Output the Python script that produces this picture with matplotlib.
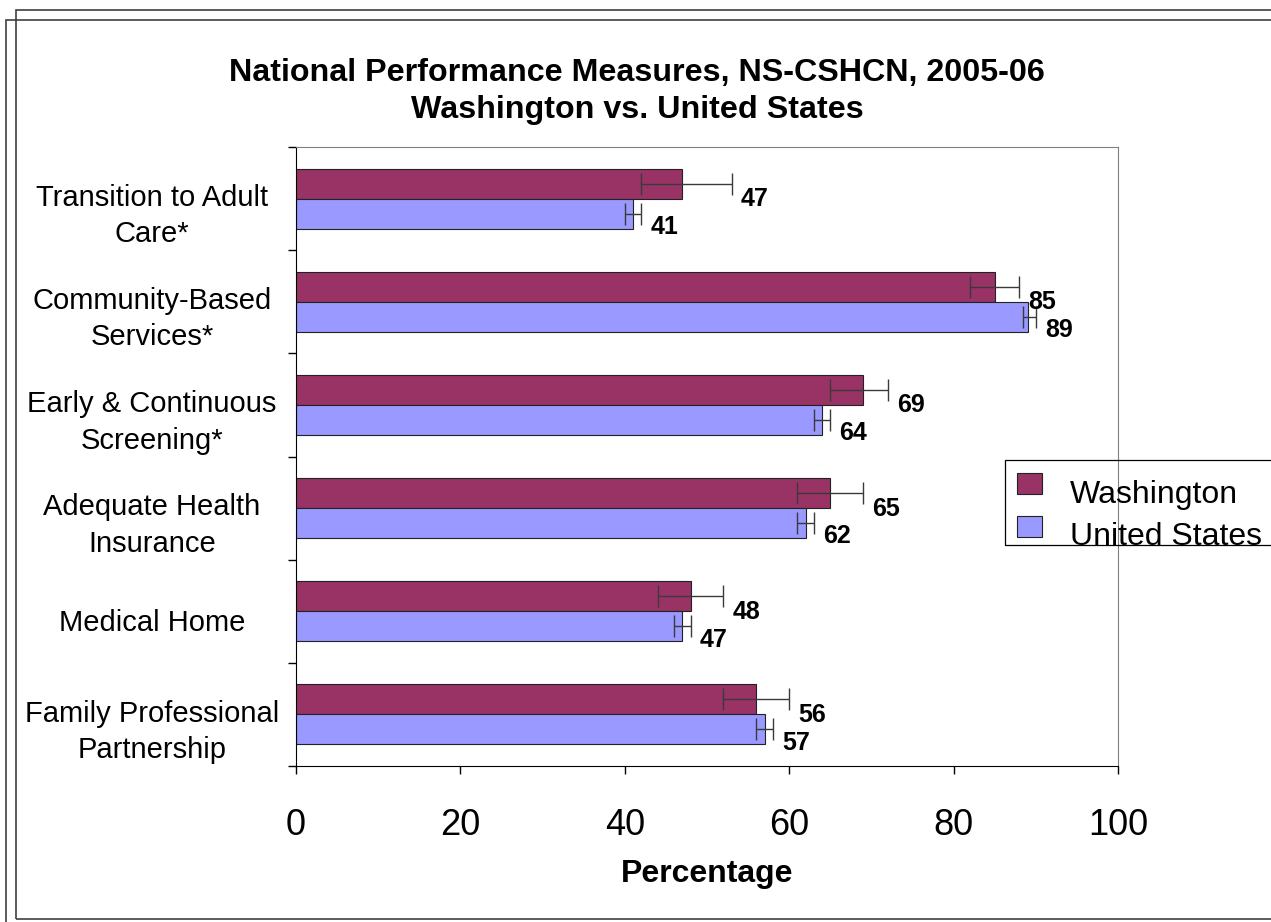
import numpy as np
import matplotlib.pyplot as plt
from matplotlib.patches import Rectangle
import matplotlib.transforms as mtransforms

plt.rcParams['font.family'] = ['Liberation Sans', 'DejaVu Sans']

# data, top to bottom
categories = ['Transition to Adult\nCare*', 'Community-Based\nServices*',
              'Early & Continuous\nScreening*', 'Adequate Health\nInsurance',
              'Medical Home', 'Family Professional\nPartnership']
wa = [47, 85, 69, 65, 48, 56]
wa_lo = [42, 82, 65, 61, 44, 52]
wa_hi = [53, 88, 72, 69, 52, 60]
us = [41, 89, 64, 62, 47, 57]
us_lo = [40, 88.5, 63, 61, 46, 56]
us_hi = [42, 90, 65, 63, 48, 58]
xticks = [0, 20, 40, 60, 80, 100]
series = ['Washington', 'United States']
colors = ['#993366', '#9999FF']

W, H = 1271, 922
fig = plt.figure(figsize=(W / 100, H / 100), dpi=100)

# double page frame
fig.add_artist(Rectangle((16 / W, 1 - 919 / H), 1.2, (919 - 10) / H, transform=fig.transFigure,
                         fill=False, ec='#404040', lw=1.2))
fig.add_artist(Rectangle((6 / W, -0.1), 1.2, 1.1 - 20 / H, transform=fig.transFigure,
                         fill=False, ec='#404040', lw=1.2))

ax = fig.add_axes([296 / W, 1 - 766 / H, (1118 - 296) / W, (766 - 147) / H])

y = np.arange(len(categories))
h = 0.29
ax.barh(y - h / 2, wa, height=h, color=colors[0], edgecolor='#222222', lw=0.8)
ax.barh(y + h / 2, us, height=h, color=colors[1], edgecolor='#222222', lw=0.8)

wa_err = [np.array(wa) - np.array(wa_lo), np.array(wa_hi) - np.array(wa)]
us_err = [np.array(us) - np.array(us_lo), np.array(us_hi) - np.array(us)]
ax.errorbar(wa, y - h / 2, xerr=wa_err, fmt='none', ecolor='#3a3a3a', elinewidth=1, capsize=8, capthick=1)
ax.errorbar(us, y + h / 2, xerr=us_err, fmt='none', ecolor='#3a3a3a', elinewidth=1, capsize=8, capthick=1)

for i in range(len(categories)):
    ax.text(wa_hi[i] + 1.1, y[i] - h / 2 + 0.15, str(wa[i]), fontsize=18, fontweight='bold',
            ha='left', va='center')
    ax.text(us_hi[i] + 1.1, y[i] + h / 2 + 0.13, str(us[i]), fontsize=18, fontweight='bold',
            ha='left', va='center')

ax.set_xlim(0, 100)
ax.set_ylim(len(categories) - 0.5, -0.5)
ax.set_xticks(xticks)
ax.set_xticklabels([str(t) for t in xticks], fontsize=26)
ax.tick_params(axis='x', direction='out', length=6, pad=24, width=1)
ax.set_yticks([])
ax.set_yticks(np.arange(len(categories) + 1) - 0.5, minor=True)
ax.tick_params(axis='y', which='minor', direction='out', length=6, width=1)
ax.set_xlabel('Percentage', fontsize=23, fontweight='bold', labelpad=12)

for s in ['top', 'right']:
    ax.spines[s].set_color('#808080')
for s in ['left', 'bottom']:
    ax.spines[s].set_color('black')

# category labels centred in the left margin
trans = mtransforms.blended_transform_factory(fig.transFigure, ax.transData)
for i, c in enumerate(categories):
    off = 0.17 if '\n' in c else 0.11
    ax.text(152 / W, y[i] + off, c, transform=trans, ha='center', va='center', fontsize=21,
            multialignment='center', linespacing=1.38)

fig.text(637 / W, 1 - 73 / H, 'National Performance Measures, NS-CSHCN, 2005-06',
         ha='center', va='center', fontsize=23.2, fontweight='bold')
fig.text(637 / W, 1 - 110 / H, 'Washington vs. United States',
         ha='center', va='center', fontsize=23.2, fontweight='bold')

# legend box (text overflows the frame as in the original)
fig.add_artist(Rectangle((1005 / W, 1 - 545 / H), 1, 85 / H, transform=fig.transFigure,
                         fill=False, ec='black', lw=0.9))
for k, (name, col) in enumerate(zip(series, colors)):
    top = 473 + 43 * k
    fig.add_artist(Rectangle((1017 / W, 1 - (top + 21) / H), 25 / W, 21 / H,
                             transform=fig.transFigure, fc=col, ec='#222222', lw=0.8))
    fig.text(1070 / W, 1 - (503 + 42 * k) / H, name, ha='left', va='baseline', fontsize=23)

fig.savefig('out.png', dpi=100)
